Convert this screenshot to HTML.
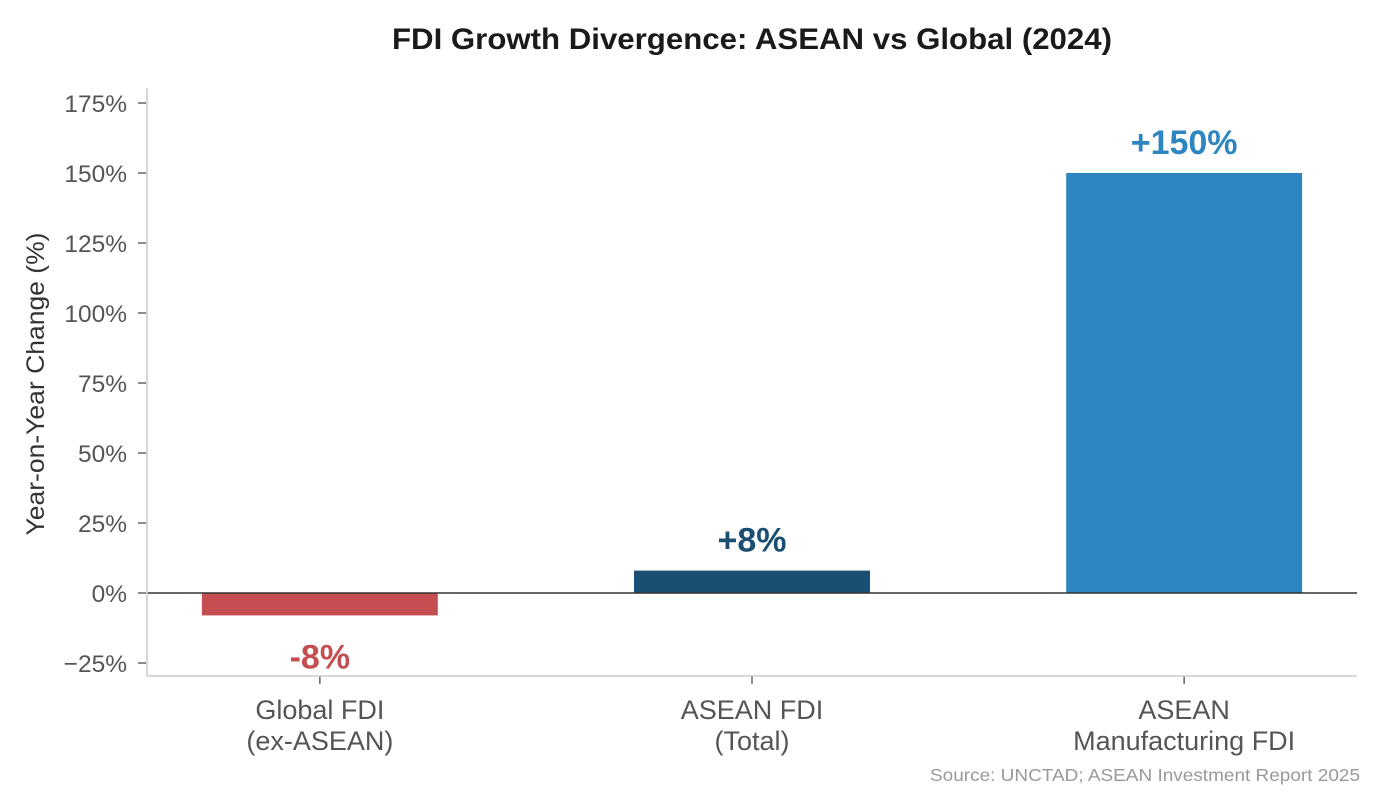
<!DOCTYPE html>
<html><head><meta charset="utf-8"><style>
html,body{margin:0;padding:0;background:#fff;}
svg{display:block;font-family:"Liberation Sans",Arial,sans-serif;}
</style></head><body>
<svg id="chart" width="1380" height="806" viewBox="0 0 1380 806" xmlns="http://www.w3.org/2000/svg">
<text x="752" y="49" text-anchor="middle" font-size="30" font-weight="bold" fill="#1a1a1a" textLength="720" lengthAdjust="spacingAndGlyphs">FDI Growth Divergence: ASEAN vs Global (2024)</text>
<text transform="translate(44,384) rotate(-90)" text-anchor="middle" font-size="25" fill="#333" textLength="303" lengthAdjust="spacingAndGlyphs">Year-on-Year Change (%)</text>
<text x="1360" y="781" text-anchor="end" font-size="17.5" fill="#999" textLength="430" lengthAdjust="spacingAndGlyphs">Source: UNCTAD; ASEAN Investment Report 2025</text>
<g id="plot"></g>
</svg>
<script>
const categories = [["Global FDI","(ex-ASEAN)"],["ASEAN FDI","(Total)"],["ASEAN","Manufacturing FDI"]];
const values = [-8, 8, 150];
const valueLabels = ["-8%","+8%","+150%"];
const colors = ["#c44e52","#1b4f72","#2e86c1"];
const yTicks = [-25,0,25,50,75,100,125,150,175];
const yTickLabels = ["\u221225%","0%","25%","50%","75%","100%","125%","150%","175%"];

const NS="http://www.w3.org/2000/svg";
const L=147,R=1357,T=88,B=676;
const yMin=-29.64,yMax=180.36;
const xMin=-0.4,xMax=2.4;
const y=v=>B-(v-yMin)/(yMax-yMin)*(B-T);
const x=i=>L+(i-xMin)/(xMax-xMin)*(R-L);
const bw=0.546*(R-L)/(xMax-xMin);
const g=document.getElementById('plot');
function mk(tag,attrs,txt){const e=document.createElementNS(NS,tag);for(const k in attrs)e.setAttribute(k,attrs[k]);if(txt!==undefined)e.textContent=txt;g.appendChild(e);return e;}

yTicks.forEach((t,i)=>{
  const tk=mk('line',{x1:L-9,x2:L-1,y1:y(t),y2:y(t),stroke:'#666','stroke-width':1.5});
  
  
  const lb=mk('text',{x:L-20,y:y(t)+9,'text-anchor':'end','font-size':24.5,fill:'#555'},yTickLabels[i]);
  
  
});

values.forEach((v,i)=>{
  const top=y(Math.max(v,0)),bot=y(Math.min(v,0));
  const r=mk('rect',{x:x(i)-bw/2,y:top,width:bw,height:bot-top,fill:colors[i]});
  
  
  const ly=v>=0?y(v)-19:y(v)+53;
  const t=mk('text',{x:x(i),y:ly,'text-anchor':'middle','font-size':34,'font-weight':'bold',fill:colors[i]},valueLabels[i]);
  
  
  const tk=mk('line',{x1:x(i),x2:x(i),y1:B,y2:B+8,stroke:'#666','stroke-width':1.5});
  
  
  categories[i].forEach((s,j)=>{
    const c=mk('text',{x:x(i),y:B+43+j*31,'text-anchor':'middle','font-size':27,fill:'#555'},s);
    
    
  });
});

const z=mk('line',{x1:L,x2:R,y1:y(0),y2:y(0),stroke:'#333','stroke-width':1.6});


const ax=mk('line',{x1:L,x2:L,y1:T,y2:B,stroke:'#ccc','stroke-width':1.6});


const bx=mk('line',{x1:L,x2:R,y1:B,y2:B,stroke:'#ccc','stroke-width':1.6});


</script>
</body></html>
